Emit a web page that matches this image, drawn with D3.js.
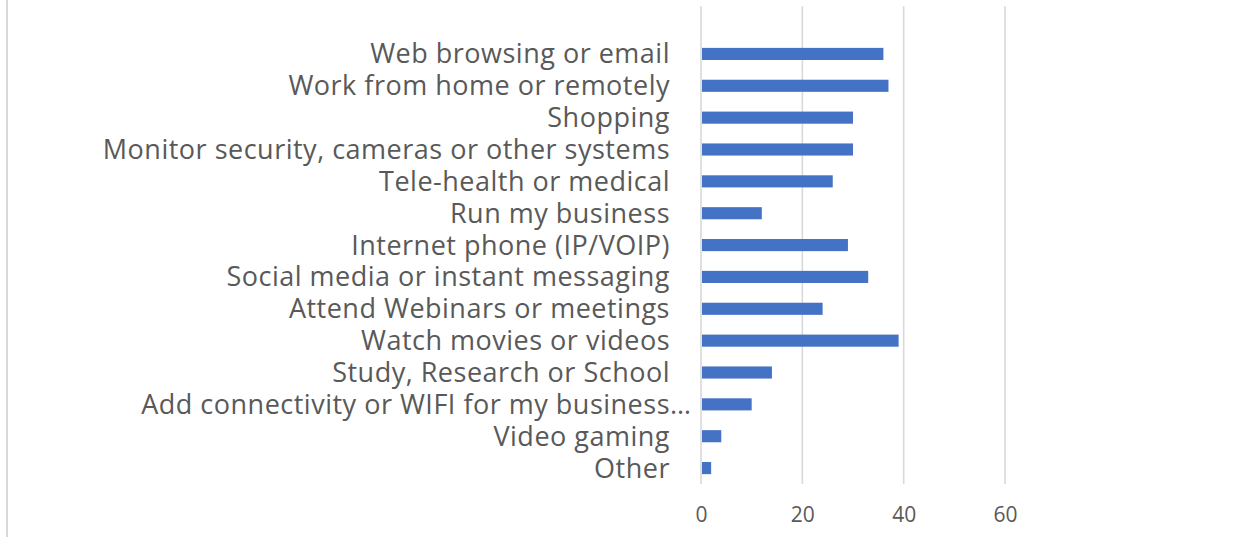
<!DOCTYPE html>
<html>
<head>
<meta charset="utf-8">
<script src="https://cdn.jsdelivr.net/npm/d3@7"></script>
<style>
  html, body { margin: 0; padding: 0; background: #fff; }
  svg { display: block; }
</style>
</head>
<body>
<svg id="chart" width="1254" height="537"></svg>
<script>
const categories = [
  "Web browsing or email",
  "Work from home or remotely",
  "Shopping",
  "Monitor security, cameras or other systems",
  "Tele-health or medical",
  "Run my business",
  "Internet phone (IP/VOIP)",
  "Social media or instant messaging",
  "Attend Webinars or meetings",
  "Watch movies or videos",
  "Study, Research or School",
  "Add connectivity or WIFI for my business…",
  "Video gaming",
  "Other"
];
const values = [36, 37, 30, 30, 26, 12, 29, 33, 24, 39, 14, 10, 4, 2];
const xTicks = [0, 20, 40, 60];

const svg = d3.select("#chart");
const font = "'Open Sans', 'Segoe UI', sans-serif";
const textColor = "#595959";
const gridColor = "#d9d9d9";
const labelSize = 27;
const labelSpacing = 0.5;

// chart border (left edge visible)
svg.append("line")
  .attr("x1", 7).attr("x2", 7).attr("y1", 0).attr("y2", 537)
  .attr("stroke", gridColor).attr("stroke-width", 2);

const x = d3.scaleLinear().domain([0, 60]).range([701, 1005]);
const y = d3.scaleBand().domain(categories).range([38, 484])
  .paddingInner(0.62).paddingOuter(0.31);

const gridTop = y.range()[0] - y.step();
const gridBottom = y.range()[1];

// gridlines
svg.append("g").selectAll("line").data(xTicks).join("line")
  .attr("x1", d => x(d)).attr("x2", d => x(d))
  .attr("y1", gridTop).attr("y2", gridBottom)
  .attr("stroke", gridColor).attr("stroke-width", 1.6);

// bars
svg.append("g").selectAll("rect").data(categories).join("rect")
  .attr("x", x(0) + 1)
  .attr("y", d => y(d))
  .attr("width", (d, i) => x(values[i]) - x(0) - 1)
  .attr("height", y.bandwidth())
  .attr("fill", "#4472C4");

// x axis labels
const xAxis = d3.axisBottom(x).tickValues(xTicks).tickSize(0).tickPadding(0);
const gx = svg.append("g").attr("transform", `translate(0,${gridBottom + 23})`).call(xAxis);
gx.select(".domain").remove();
gx.selectAll("text")
  .attr("font-family", font).attr("font-size", 21).attr("fill", textColor)
  .attr("dy", "0.71em");

// y axis labels
const yAxis = d3.axisLeft(y).tickSize(0).tickPadding(31);
const gy = svg.append("g").attr("transform", `translate(${x(0)},0)`).call(yAxis);
gy.select(".domain").remove();
gy.selectAll("text")
  .attr("font-family", font).attr("font-size", labelSize).attr("fill", textColor)
  .attr("letter-spacing", labelSpacing)
  .attr("dy", "0.35em")
  .each(function(d) {
    if (d.endsWith("…")) {
      const t = d3.select(this);
      const tmp = svg.append("text").attr("font-family", font)
        .attr("font-size", labelSize).attr("letter-spacing", labelSpacing).text("…");
      const w = tmp.node().getComputedTextLength();
      tmp.remove();
      t.attr("dx", w);
    }
  });
</script>
</body>
</html>
